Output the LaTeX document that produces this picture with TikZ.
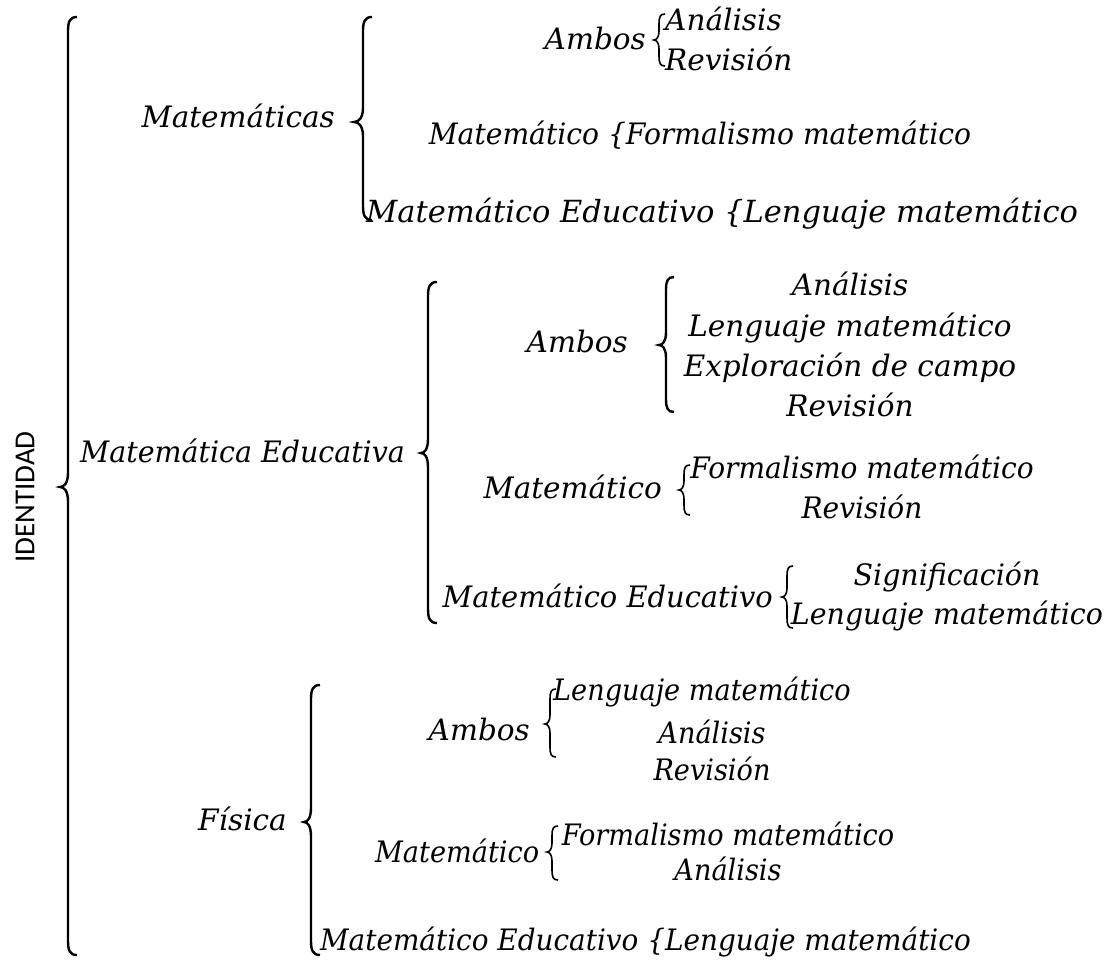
\documentclass[tikz,border=0pt]{standalone}
\usepackage{fontspec}
\setmainfont{DejaVu Serif}
\newfontfamily\idfont{Carlito}
\newcommand\wbr[7]{% style, x, tip, top, mid, bot, r
\draw[#1] ({#2+#7},#4) .. controls ({#2+0.2*#7},#4) and (#2,{#4+0.5*#7}) .. (#2,{#4+1.6*#7})
 -- (#2,{#5-1.6*#7}) .. controls (#2,{#5-0.4*#7}) and ({#3+0.5*(#2-#3)},#5) .. (#3,#5)
 .. controls ({#3+0.5*(#2-#3)},#5) and (#2,{#5+0.4*#7}) .. (#2,{#5+1.6*#7})
 -- (#2,{#6-1.6*#7}) .. controls (#2,{#6-0.5*#7}) and ({#2+0.2*#7},#6) .. ({#2+#7},#6);}
\begin{document}
\begin{tikzpicture}[x=1pt,y=-1pt,
  t/.style={inner sep=0pt, font=\fontsize{29.5}{32}\selectfont\itshape},
  tw/.style={t, anchor=base west},
  te/.style={t, anchor=base east},
  tc/.style={t, anchor=base},
  big/.style={font=\fontsize{30.5}{33}\selectfont\itshape},
  narrow/.style={xscale=#1, transform shape},
  narrow/.default=0.92,
  bigbr/.style={line width=2.4pt},
  smbr/.style={line width=1.6pt}]
\useasboundingbox (0,0) rectangle (1105,963);
% outer
\node[font=\idfont\fontsize{29}{32}\selectfont, rotate=90, inner sep=0pt] (id) at (25,497) {IDENTIDAD};
\wbr{bigbr}{68}{60}{17}{487}{955}{9}
% ---------- section 1
\node[te] (m1) at (335,128) {Matemáticas};
\wbr{bigbr}{363}{354}{17}{122}{220}{9}
\node[te] (a1) at (646,50) {Ambos};
\wbr{smbr}{659}{654}{14}{40}{66}{6}
\node[tw] (a1i1) at (665,31) {Análisis};
\node[tw] (a1i2) at (665,71) {Revisión};
\node[tc, narrow=0.955] (mt1) at (700,145) {Matemático \{Formalismo matemático};
\node[tw, big] (me1) at (366,222) {Matemático Educativo \{Lenguaje matemático};
% ---------- section 2
\node[tw, narrow=0.965] (m2) at (80,462) {Matemática Educativa};
\wbr{bigbr}{428}{421}{282}{453}{623}{9}
\node[te] (a2) at (628,352) {Ambos};
\wbr{bigbr}{666}{659}{277}{345}{412}{8}
\node[tc] (a2i1) at (850,295) {Análisis};
\node[tc] (a2i2) at (850,336) {Lenguaje matemático};
\node[tc] (a2i3) at (850,376) {Exploración de campo};
\node[tc] (a2i4) at (850,416) {Revisión};
\node[te] (mt2) at (662,498) {Matemático};
\wbr{smbr}{684}{679}{465}{490}{515}{6}
\node[tc, narrow=0.95] (mt2i1) at (862,478) {Formalismo matemático};
\node[tc, narrow=0.95] (mt2i2) at (862,518) {Revisión};
\node[te, narrow=0.98] (me2) at (773,607) {Matemático Educativo};
\wbr{smbr}{787}{782}{566}{597}{628}{6}
\node[tc, narrow=0.965] (me2i1) at (947,585) {Significación};
\node[tc, narrow=0.965] (me2i2) at (947,624) {Lenguaje matemático};
% ---------- section 3
\node[te] (m3) at (287,830) {Física};
\wbr{bigbr}{311}{304}{685}{822}{955}{9}
\node[te] (a3) at (530,740) {Ambos};
\wbr{smbr}{550}{545}{689}{724}{757}{6}
\node[tc, narrow] (a3i1) at (702,700) {Lenguaje matemático};
\node[tc, narrow] (a3i2) at (712,743) {Análisis};
\node[tc, narrow] (a3i3) at (712,780) {Revisión};
\node[tw, narrow] (mt3) at (375,862) {Matemático};
\wbr{smbr}{552}{547}{826}{852}{880}{6}
\node[tc, narrow] (mt3i1) at (728,845) {Formalismo matemático};
\node[tc, narrow] (mt3i2) at (728,880) {Análisis};
\node[tw, narrow=0.945] (me3) at (320,950) {Matemático Educativo \{Lenguaje matemático};
\end{tikzpicture}
\end{document}
